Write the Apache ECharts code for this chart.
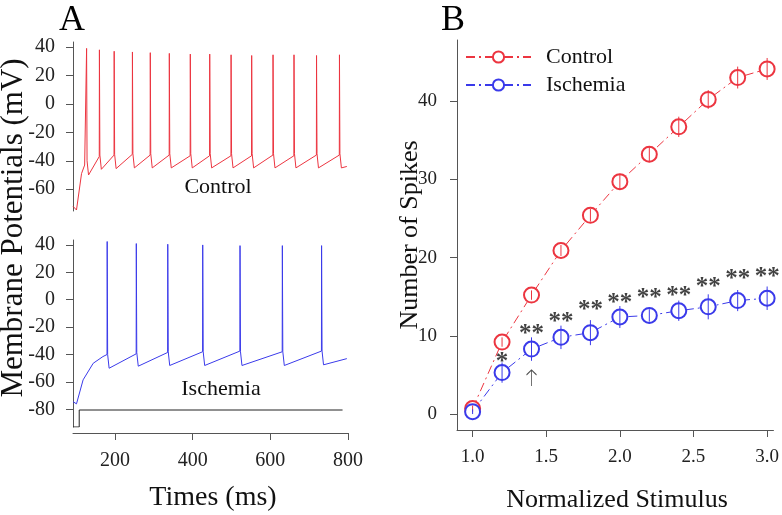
<!DOCTYPE html>
<html>
<head>
    <meta charset="utf-8">
    <title>Spikes</title>
    <script src="https://cdn.jsdelivr.net/npm/echarts@6/dist/echarts.min.js"></script>
    <style>
        body { margin: 0; background: #fff; }
        #main { width: 782px; height: 515px; }
    </style>
</head>
<body>
<div id="main"></div>
<script type="text/javascript">
    // ---- panel A: control trace (times in ms, voltages in mV) ----
    var ctrlOnsetT = [92, 101, 114, 122];
    var ctrlOnsetV = [-72, -74.6, -49, -43];
    var ctrlSpikeT = [127, 160, 198, 245, 291, 340, 394, 444, 499, 552, 607, 661, 719, 778];
    var ctrlPeak = [39, 38, 37, 36.5, 36, 35.5, 35, 35, 34.5, 34, 34.5, 34.5, 34, 34.5];
    var ctrlPre = [-42, -37, -36, -35.5, -36, -36, -36.5, -36.5, -36.5, -36.5, -36, -36.5, -36, -36];
    var ctrlTrough = [-50, -46, -45.5, -45, -45, -45, -45, -45, -45, -45, -45, -45, -45, -45];
    var ctrlEnd = [797, -44];

    // ---- panel A: ischemia trace ----
    var ischOnsetT = [92, 101, 118, 144, 169];
    var ischOnsetV = [-74.4, -76, -58.5, -46.4, -41.5];
    var ischSpikeT = [180, 255, 336, 426, 522, 631, 732];
    var ischPeak = [42.5, 41, 40.5, 40, 39.5, 39.5, 39.5];
    var ischPre = [-40, -39.5, -38.5, -38, -37.5, -38, -37.5];
    var ischTrough = [-50, -48.5, -48, -48, -48, -48, -47.5];
    var ischEnd = [797, -43];

    // current step under the traces
    var stimT = [92, 108, 108, 786];
    var stimV = [-92.9, -92.9, -80.5, -80.5];

    var timeTicks = [200, 400, 600, 800];
    var ctrlVTicks = [-60, -40, -20, 0, 20, 40];
    var ischVTicks = [-80, -60, -40, -20, 0, 20, 40];

    // ---- panel B ----
    var stimLevels = [1.0, 1.2, 1.4, 1.6, 1.8, 2.0, 2.2, 2.4, 2.6, 2.8, 3.0];
    var ctrlMean = [0.7, 9.2, 15.2, 20.9, 25.4, 29.7, 33.2, 36.7, 40.2, 43.0, 44.1];
    var ctrlSem = [0.4, 0.6, 0.6, 0.7, 0.8, 1.0, 1.0, 1.3, 1.2, 1.4, 1.4];
    var ischMean = [0.3, 5.3, 8.3, 9.8, 10.4, 12.4, 12.6, 13.2, 13.7, 14.5, 14.8];
    var ischSem = [0.3, 1.3, 1.5, 1.5, 1.6, 1.4, 0.8, 1.3, 1.6, 1.35, 1.5];
    var sigText = ['', '*', '**', '**', '**', '**', '**', '**', '**', '**', '**'];
    var sigY = [0, 6.6, 10.2, 11.7, 13.2, 14.1, 14.8, 15.0, 16.2, 17.2, 17.5];
    var arrowX = 1.4, arrowY = 4.6;
    var stimTicks = [1.0, 1.5, 2.0, 2.5, 3.0];
    var spikeTicks = [0, 10, 20, 30, 40];

    var RED = '#ec3540', BLUE = '#3a3aea', AX = '#555';
    var FONT = "'Liberation Serif', 'Times New Roman', serif";

    function buildTrace(onT, onV, sT, pre, peak, trough, end) {
        var pts = [];
        for (var i = 0; i < onT.length; i++) pts.push([onT[i], onV[i]]);
        for (var j = 0; j < sT.length; j++) {
            pts.push([sT[j] - 0.4, pre[j]]);
            pts.push([sT[j], peak[j]]);
            pts.push([sT[j] + 1.2, trough[j] + 10]);
            pts.push([sT[j] + 5, trough[j]]);
        }
        pts.push(end);
        return pts;
    }

    var ctrlTrace = buildTrace(ctrlOnsetT, ctrlOnsetV, ctrlSpikeT, ctrlPre, ctrlPeak, ctrlTrough, ctrlEnd);
    var ischTrace = buildTrace(ischOnsetT, ischOnsetV, ischSpikeT, ischPre, ischPeak, ischTrough, ischEnd);
    var stimLine = stimT.map(function (t, i) { return [t, stimV[i]]; });

    var ctrlPts = stimLevels.map(function (x, i) { return [x, ctrlMean[i]]; });
    var ischPts = stimLevels.map(function (x, i) { return [x, ischMean[i]]; });
    var ctrlErr = stimLevels.map(function (x, i) { return [x, ctrlMean[i] - ctrlSem[i], ctrlMean[i] + ctrlSem[i]]; });
    var ischErr = stimLevels.map(function (x, i) { return [x, ischMean[i] - ischSem[i], ischMean[i] + ischSem[i]]; });
    var sigPts = [];
    for (var k = 0; k < stimLevels.length; k++) {
        if (sigText[k]) sigPts.push({value: [stimLevels[k], sigY[k]], txt: sigText[k]});
    }

    function errBar(color) {
        return function (params, api) {
            var lo = api.coord([api.value(0), api.value(1)]);
            var hi = api.coord([api.value(0), api.value(2)]);
            return {
                type: 'line',
                shape: {x1: lo[0], y1: lo[1], x2: hi[0], y2: hi[1]},
                style: {stroke: color, lineWidth: 1}
            };
        };
    }

    function valAxis(idx, min, max, ticks, opt) {
        var a = {
            type: 'value', gridIndex: idx, min: min, max: max,
            splitLine: {show: false},
            axisLine: {show: true, onZero: false, lineStyle: {color: AX, width: 1}},
            axisTick: {show: true, length: 7, lineStyle: {color: AX}, customValues: ticks},
            axisLabel: {show: true, customValues: ticks, color: '#222', fontFamily: FONT, fontSize: 20, margin: 18}
        };
        for (var key in opt) a[key] = opt[key];
        return a;
    }

    var dashDot = [9, 4, 2, 4];
    var bLabel = {
        show: true, customValues: stimTicks, color: '#222', fontFamily: FONT, fontSize: 19, margin: 18,
        formatter: function (v) { return v.toFixed(1); }
    };

    var option = {
        animation: false,
        grid: [
            {left: 73, top: 42, width: 275, height: 169},
            {left: 73, top: 240, width: 275, height: 187},
            {left: 457, top: 40, width: 319, height: 390}
        ],
        xAxis: [
            valAxis(0, 92, 800, timeTicks, {show: false}),
            valAxis(1, 92, 800, timeTicks, {offset: 6}),
            valAxis(2, 0.894, 3.043, stimTicks, {axisLabel: bLabel})
        ],
        yAxis: [
            valAxis(0, -75.3, 43.5, ctrlVTicks, {}),
            valAxis(1, -92.9, 43.6, ischVTicks, {}),
            valAxis(2, -2.04, 47.8, spikeTicks, {
                axisLabel: {show: true, customValues: spikeTicks, color: '#222', fontFamily: FONT, fontSize: 19, margin: 20}
            })
        ],
        legend: {
            data: ['Control', 'Ischemia'],
            orient: 'vertical', left: 460, top: 41,
            itemWidth: 65, itemHeight: 14, itemGap: 6,
            textStyle: {fontFamily: FONT, fontSize: 22, lineHeight: 22, color: '#111', padding: [0, 0, 0, 10]}
        },
        graphic: [
            {type: 'text', x: 72, y: 21, style: {text: 'A', font: '36px ' + FONT, fill: '#000', align: 'center', verticalAlign: 'middle'}},
            {type: 'text', x: 453, y: 21, style: {text: 'B', font: '36px ' + FONT, fill: '#000', align: 'center', verticalAlign: 'middle'}},
            {type: 'text', x: 14, y: 228, rotation: Math.PI / 2, style: {text: 'Membrane Potentials (mV)', font: '31px ' + FONT, fill: '#111', align: 'center', verticalAlign: 'middle'}},
            {type: 'text', x: 213, y: 498, style: {text: 'Times (ms)', font: '28px ' + FONT, fill: '#111', align: 'center', verticalAlign: 'middle'}},
            {type: 'text', x: 218, y: 187, style: {text: 'Control', font: '22px ' + FONT, fill: '#111', align: 'center', verticalAlign: 'middle'}},
            {type: 'text', x: 221, y: 389, style: {text: 'Ischemia', font: '22px ' + FONT, fill: '#111', align: 'center', verticalAlign: 'middle'}},
            {type: 'text', x: 410, y: 235, rotation: Math.PI / 2, style: {text: 'Number of Spikes', font: '26px ' + FONT, fill: '#111', align: 'center', verticalAlign: 'middle'}},
            {type: 'text', x: 617, y: 500, style: {text: 'Normalized Stimulus', font: '26px ' + FONT, fill: '#111', align: 'center', verticalAlign: 'middle'}}
        ],
        series: [
            {
                name: 'ctrlTrace', type: 'line', xAxisIndex: 0, yAxisIndex: 0, data: ctrlTrace,
                showSymbol: false, lineStyle: {color: RED, width: 1}
            },
            {
                name: 'ischTrace', type: 'line', xAxisIndex: 1, yAxisIndex: 1, data: ischTrace,
                showSymbol: false, lineStyle: {color: BLUE, width: 1}
            },
            {
                name: 'stim', type: 'line', xAxisIndex: 1, yAxisIndex: 1, data: stimLine,
                showSymbol: false, lineStyle: {color: '#222', width: 1}
            },
            {
                name: 'Control', type: 'line', xAxisIndex: 2, yAxisIndex: 2, data: ctrlPts,
                symbol: 'emptyCircle', symbolSize: 15, z: 3,
                itemStyle: {color: RED, borderColor: RED, borderWidth: 1},
                lineStyle: {color: RED, width: 1, type: dashDot}
            },
            {
                name: 'Ischemia', type: 'line', xAxisIndex: 2, yAxisIndex: 2, data: ischPts,
                symbol: 'emptyCircle', symbolSize: 15, z: 3,
                itemStyle: {color: BLUE, borderColor: BLUE, borderWidth: 1},
                lineStyle: {color: BLUE, width: 1, type: dashDot}
            },
            {
                name: 'ctrlErr', type: 'custom', xAxisIndex: 2, yAxisIndex: 2,
                data: ctrlErr, renderItem: errBar(RED), z: 4
            },
            {
                name: 'ischErr', type: 'custom', xAxisIndex: 2, yAxisIndex: 2,
                data: ischErr, renderItem: errBar(BLUE), z: 4
            },
            {
                name: 'sig', type: 'scatter', xAxisIndex: 2, yAxisIndex: 2, data: sigPts,
                symbol: 'circle', symbolSize: 2, itemStyle: {color: 'rgba(0,0,0,0)'}, z: 5,
                label: {
                    show: true, position: 'inside', color: '#111', fontFamily: FONT, fontSize: 25, fontWeight: 'bold',
                    formatter: function (p) { return p.data.txt; }
                }
            },
            {
                // the arrow under the 1.4 point, drawn as an open path
                name: 'arrow', type: 'scatter', xAxisIndex: 2, yAxisIndex: 2, data: [[arrowX, arrowY]],
                symbol: 'path://M5,0 L5,20 M0,6 L5,0 L10,6', symbolSize: [10, 16], z: 5,
                itemStyle: {color: 'rgba(0,0,0,0)', borderColor: '#222', borderWidth: 1}
            }
        ]
    };

    var myChart = echarts.init(document.getElementById('main'));
    myChart.setOption(option);
</script>
</body>
</html>
